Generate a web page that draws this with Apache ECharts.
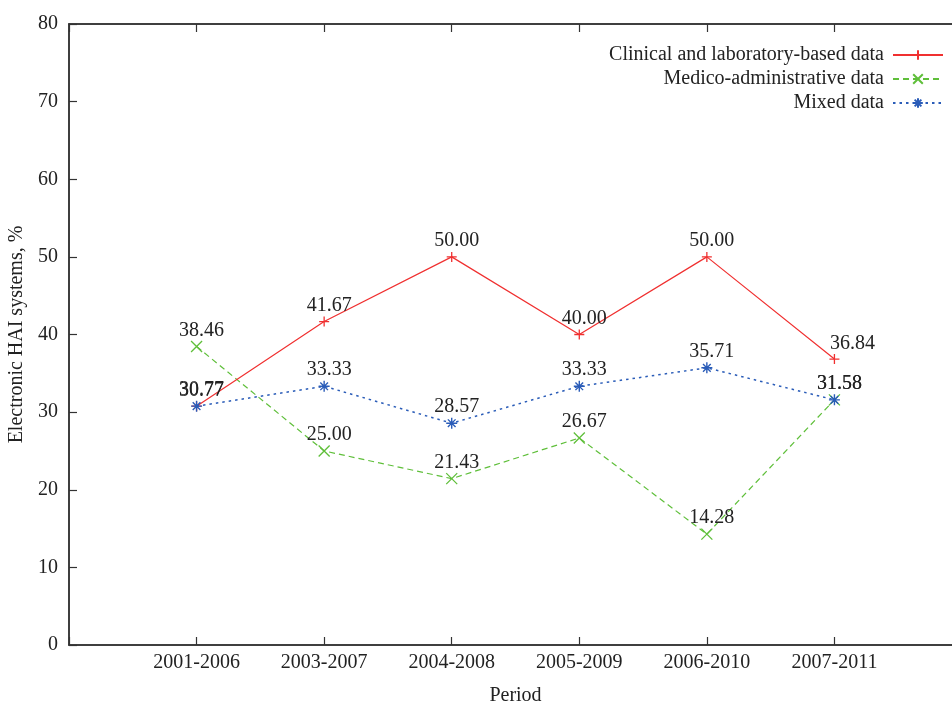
<!DOCTYPE html>
<html>
<head>
<meta charset="utf-8">
<script src="https://cdn.jsdelivr.net/npm/echarts@6/dist/echarts.min.js"></script>
<style>html,body{margin:0;padding:0;background:#fff;}#c{width:952px;height:703px;}</style>
</head>
<body>
<div id="c"></div>
<script>
const periods = ['2001-2006','2003-2007','2004-2008','2005-2009','2006-2010','2007-2011'];
const clinical = [30.77, 41.67, 50.00, 40.00, 50.00, 36.84];
const medico = [38.46, 25.00, 21.43, 26.67, 14.28, 31.58];
const mixed = [30.77, 33.33, 28.57, 33.33, 35.71, 31.58];
const yTicks = [0,10,20,30,40,50,60,70,80];

const FONT = 'Liberation Serif';
const chart = echarts.init(document.getElementById('c'), null, {renderer:'canvas'});

function pts(vals, extraOffsetIdx, extraOffset){
  return vals.map((v,i)=>{
    const d = {value:[i+1, v]};
    if (i === extraOffsetIdx) d.label = {offset: extraOffset};
    return d;
  });
}
const labelCfg = {
  show:true, position:'top', distance:0, offset:[5,0],
  fontFamily:FONT, fontSize:20, color:'#222',
  formatter: p => p.value[1].toFixed(2)
};
const plusPath = 'path://M0,5L10,5M5,0L5,10';
const crossPath = 'path://M0,0L10,10M10,0L0,10';
const starPath = 'path://M0,5L10,5M5,0L5,10M1.5,1.5L8.5,8.5M8.5,1.5L1.5,8.5';

const option = {
  animation:false,
  backgroundColor:'#fff',
  grid:{left:69, top:24, bottom:58, right:-10, outerBoundsMode:'none', containLabel:false,
        show:true, borderColor:'#333', borderWidth:1.5, backgroundColor:'transparent'},
  legend:{
    right:3, top:40, orient:'vertical', align:'right',
    itemWidth:50, itemHeight:12, itemGap:4,
    textStyle:{fontFamily:FONT, fontSize:20, color:'#222', lineHeight:20, padding:[0,4,0,0]},
    data:['Clinical and laboratory-based data','Medico-administrative data','Mixed data']
  },
  xAxis:[{
    type:'value', min:0, max:7, interval:1,
    name:'Period', nameLocation:'middle', nameGap:41,
    nameTextStyle:{fontFamily:FONT, fontSize:20, color:'#222'},
    axisLine:{show:true, lineStyle:{color:'#333', width:1.5}},
    axisTick:{show:true, inside:true, length:8, lineStyle:{color:'#333', width:1.2}},
    axisLabel:{fontFamily:FONT, fontSize:20, color:'#222', margin:8,
      formatter: v => (v>=1 && v<=periods.length) ? periods[v-1] : ''},
    splitLine:{show:false}
  },{
    type:'value', min:0, max:7, interval:1, position:'top',
    axisLine:{show:true, lineStyle:{color:'#333', width:1.5}},
    axisTick:{show:true, inside:true, length:8, lineStyle:{color:'#333', width:1.2}},
    axisLabel:{show:false}, splitLine:{show:false}
  }],
  yAxis:{
    type:'value', min:yTicks[0], max:yTicks[yTicks.length-1], interval:10,
    name:'Electronic HAI systems, %', nameLocation:'middle', nameGap:39, nameRotate:90,
    nameTextStyle:{fontFamily:FONT, fontSize:20, color:'#222'},
    axisLine:{show:true, lineStyle:{color:'#333', width:1.5}},
    axisTick:{show:true, inside:true, length:8, lineStyle:{color:'#333', width:1.2}},
    axisLabel:{fontFamily:FONT, fontSize:20, color:'#222', margin:11},
    splitLine:{show:false}
  },
  series:[
    {
      name:'Clinical and laboratory-based data', type:'line', xAxisIndex:0,
      data:pts(clinical, 5, [18,0]),
      symbol:plusPath, symbolSize:10, showAllSymbol:true,
      lineStyle:{color:'#f03030', width:1.2, type:'solid'},
      itemStyle:{color:'#f03030', borderColor:'#f03030', borderWidth:1.3},
      label:labelCfg, z:3
    },
    {
      name:'Medico-administrative data', type:'line', xAxisIndex:0,
      data:pts(medico, -1),
      symbol:crossPath, symbolSize:11, showAllSymbol:true,
      lineStyle:{color:'#5fbf3a', width:1.2, type:[6,4]},
      itemStyle:{color:'#5fbf3a', borderColor:'#5fbf3a', borderWidth:1.3},
      label:labelCfg, z:2
    },
    {
      name:'Mixed data', type:'line', xAxisIndex:0,
      data:pts(mixed, -1),
      symbol:starPath, symbolSize:11, showAllSymbol:true,
      lineStyle:{color:'#2a5cb8', width:1.5, type:[2.5,4]},
      itemStyle:{color:'#2a5cb8', borderColor:'#2a5cb8', borderWidth:1.4},
      label:labelCfg, z:4
    }
  ]
};
chart.setOption(option);
</script>
</body>
</html>
